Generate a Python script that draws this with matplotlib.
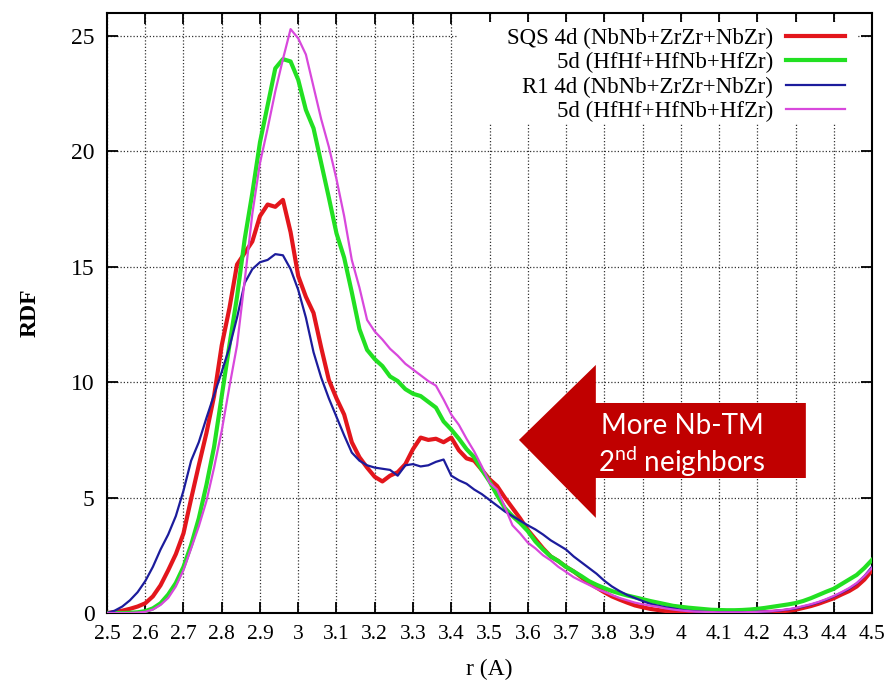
import numpy as np
import matplotlib
matplotlib.use("Agg")
import matplotlib.pyplot as plt
from matplotlib.patches import Polygon, Rectangle
from matplotlib.ticker import FuncFormatter

# ---------------- data ----------------
r = np.round(np.arange(2.50, 4.5001, 0.02), 2)

sqs_4d = [0.00, 0.04, 0.10, 0.18, 0.28, 0.42, 0.72, 1.20, 1.85, 2.55,
          3.45, 4.95, 6.40, 7.80, 9.40, 11.60, 13.20, 15.10, 15.60, 16.10,
          17.20, 17.70, 17.60, 17.90, 16.50, 14.60, 13.70, 13.00, 11.50, 10.10,
          9.30, 8.60, 7.40, 6.75, 6.30, 5.90, 5.70, 5.95, 6.10, 6.45,
          7.10, 7.60, 7.50, 7.55, 7.40, 7.60, 7.05, 6.70, 6.60, 6.20,
          5.80, 5.50, 5.00, 4.55, 4.10, 3.60, 3.20, 2.80, 2.45, 2.25,
          2.00, 1.80, 1.55, 1.30, 1.10, 0.90, 0.72, 0.58, 0.45, 0.33,
          0.25, 0.18, 0.13, 0.09, 0.06, 0.05, 0.04, 0.03, 0.03, 0.02,
          0.02, 0.02, 0.02, 0.02, 0.03, 0.03, 0.04, 0.05, 0.07, 0.10,
          0.14, 0.22, 0.30, 0.40, 0.52, 0.64, 0.80, 0.95, 1.15, 1.45,
          1.85]

sqs_5d = [0.00, 0.00, 0.00, 0.01, 0.03, 0.08, 0.20, 0.42, 0.80, 1.30,
          2.00, 2.95, 4.10, 5.55, 7.20, 9.40, 11.60, 13.70, 16.20, 18.20,
          20.40, 22.00, 23.60, 24.00, 23.90, 23.10, 21.80, 21.00, 19.50, 18.00,
          16.45, 15.40, 13.90, 12.30, 11.40, 11.00, 10.70, 10.25, 10.05, 9.70,
          9.50, 9.40, 9.15, 8.90, 8.30, 7.95, 7.55, 7.10, 6.75, 6.20,
          5.70, 5.10, 4.55, 4.20, 3.90, 3.55, 3.10, 2.75, 2.45, 2.25,
          2.00, 1.80, 1.60, 1.38, 1.22, 1.08, 0.95, 0.85, 0.76, 0.68,
          0.60, 0.52, 0.45, 0.38, 0.31, 0.27, 0.23, 0.20, 0.17, 0.14,
          0.13, 0.12, 0.12, 0.13, 0.15, 0.18, 0.22, 0.27, 0.32, 0.37,
          0.43, 0.52, 0.64, 0.78, 0.92, 1.05, 1.25, 1.45, 1.65, 1.95,
          2.30]

r1_4d = [0.00, 0.10, 0.28, 0.55, 0.90, 1.38, 2.00, 2.75, 3.40, 4.20,
         5.30, 6.60, 7.40, 8.45, 9.45, 10.45, 11.50, 12.80, 14.30, 14.90,
         15.20, 15.30, 15.55, 15.50, 14.90, 14.00, 12.80, 11.30, 10.20, 9.30,
         8.50, 7.70, 6.95, 6.60, 6.40, 6.30, 6.25, 6.20, 5.95, 6.40,
         6.45, 6.35, 6.40, 6.55, 6.65, 5.95, 5.75, 5.60, 5.35, 5.15,
         4.90, 4.65, 4.40, 4.20, 4.00, 3.80, 3.62, 3.40, 3.15, 2.95,
         2.75, 2.45, 2.20, 1.95, 1.70, 1.40, 1.15, 0.95, 0.78, 0.65,
         0.52, 0.40, 0.32, 0.25, 0.20, 0.14, 0.10, 0.07, 0.05, 0.04,
         0.03, 0.03, 0.03, 0.03, 0.04, 0.05, 0.06, 0.08, 0.11, 0.15,
         0.20, 0.28, 0.36, 0.46, 0.58, 0.72, 0.88, 1.05, 1.28, 1.60,
         2.00]

r1_5d = [0.00, 0.00, 0.00, 0.00, 0.02, 0.05, 0.15, 0.35, 0.65, 1.15,
         1.86, 2.80, 3.75, 4.85, 6.30, 7.90, 9.80, 11.60, 14.40, 17.30,
         19.50, 21.00, 22.60, 24.00, 25.30, 24.90, 24.20, 22.80, 21.40, 20.20,
         18.80, 17.20, 15.30, 14.10, 12.70, 12.20, 11.85, 11.45, 11.15, 10.80,
         10.55, 10.30, 10.05, 9.85, 9.25, 8.60, 8.15, 7.55, 7.00, 6.35,
         5.65, 5.35, 4.60, 3.80, 3.45, 3.05, 2.80, 2.50, 2.28, 2.00,
         1.78, 1.55, 1.38, 1.22, 1.05, 0.92, 0.78, 0.65, 0.55, 0.45,
         0.38, 0.32, 0.27, 0.20, 0.15, 0.11, 0.08, 0.06, 0.05, 0.04,
         0.03, 0.03, 0.03, 0.03, 0.04, 0.05, 0.07, 0.09, 0.12, 0.16,
         0.22, 0.30, 0.38, 0.48, 0.60, 0.74, 0.90, 1.08, 1.30, 1.60,
         1.95]

labels = ["SQS 4d (NbNb+ZrZr+NbZr)", "5d (HfHf+HfNb+HfZr)",
          "R1 4d (NbNb+ZrZr+NbZr)", "5d (HfHf+HfNb+HfZr)"]
x_ticks = np.round(np.arange(2.5, 4.5001, 0.1), 1)
y_ticks = [0, 5, 10, 15, 20, 25]
arrow_text = ["More Nb-TM", "2$^{\\mathregular{nd}}$ neighbors"]

# ---------------- figure ----------------
plt.rcParams['font.family'] = ['Liberation Serif', 'DejaVu Serif']
fig = plt.figure(figsize=(8.9, 6.9), dpi=100)
ax = fig.add_axes([0.1202, 0.1116, 0.8596, 0.8696])

series = [(sqs_4d, '#e3161c', 3.0), (sqs_5d, '#22e022', 3.0),
          (r1_4d, '#1c1c9c', 1.6), (r1_5d, '#d848dc', 1.6)]
for (vals, col, lw), lab in zip(series, labels):
    ax.plot(r, vals, color=col, lw=lw, label=lab, zorder=3)

ax.set_xlim(2.5, 4.5)
ax.set_ylim(0, 26)
ax.set_xticks(x_ticks)
ax.set_yticks(y_ticks)
ax.xaxis.set_major_formatter(FuncFormatter(lambda v, p: f"{v:g}"))
ax.tick_params(axis='both', direction='in', length=8, width=1.3,
               top=True, right=True, labelsize=15.5, pad=9)
ax.tick_params(axis='y', labelsize=17)
for s in ax.spines.values():
    s.set_linewidth(1.5)

ax.set_axisbelow(True)
ax.grid(True, color='0.2', linestyle=(0, (1, 1.6)), linewidth=0.9)

ax.set_xlabel("r (A)", fontsize=17, labelpad=10)
ax.set_ylabel("RDF", fontsize=17, fontweight='bold', labelpad=22)

# white key area (covers grid behind legend)
ax.add_patch(Rectangle((0.459, 0.815), 0.523, 0.170, transform=ax.transAxes,
                       facecolor='white', edgecolor='none', zorder=1.5))

leg = ax.legend(loc='upper right', bbox_to_anchor=(0.965, 0.975),
                markerfirst=False, frameon=False, fontsize=16.5,
                handlelength=2.6, handletextpad=0.55, labelspacing=0.14,
                borderpad=0, borderaxespad=0)

# annotation block arrow (decoration)
arrow_col = '#c00000'
tip = (3.577, 7.5)
head_x, tail_x = 3.778, 4.327
head_top, head_bot = 10.75, 4.12
shaft_top, shaft_bot = 9.1, 5.85
ax.add_patch(Polygon([tip, (head_x, head_top), (head_x, shaft_top),
                      (tail_x, shaft_top), (tail_x, shaft_bot),
                      (head_x, shaft_bot), (head_x, head_bot)],
                     closed=True, facecolor=arrow_col, edgecolor='none', zorder=4))
ax.text(4.003, 8.1, arrow_text[0], color='white', fontsize=20, family='Lato',
        ha='center', va='center', zorder=5)
ax.text(4.003, 6.55, arrow_text[1], color='white', fontsize=20, family='Lato',
        ha='center', va='center', zorder=5)

fig.savefig("out.png", dpi=100, facecolor='white')
